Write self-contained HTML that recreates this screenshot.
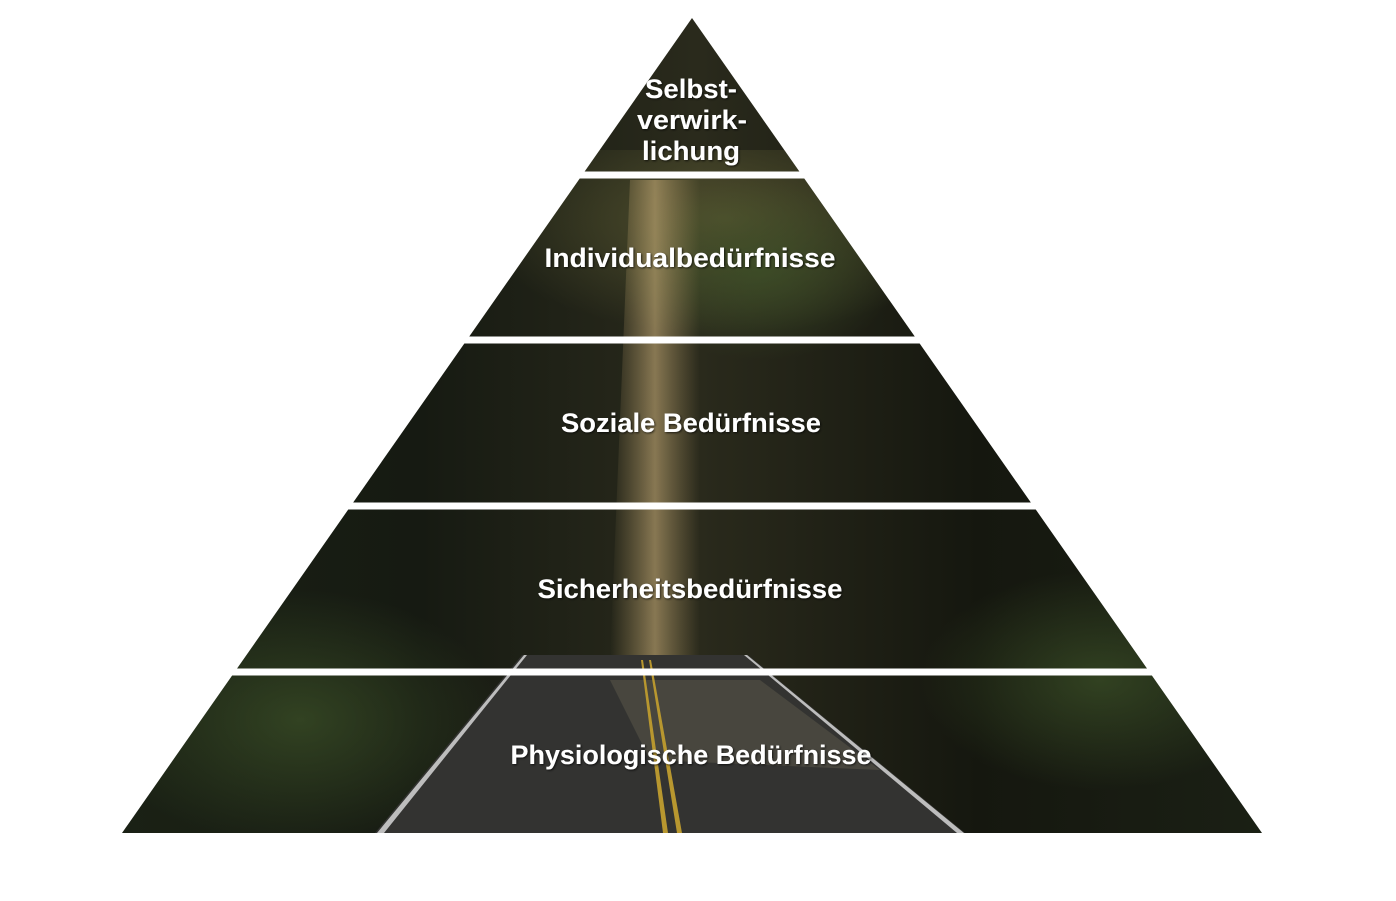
<!DOCTYPE html>
<html><head><meta charset="utf-8"><style>
html,body{margin:0;padding:0;background:#fff;width:1396px;height:901px;overflow:hidden}
</style></head><body>
<svg width="1396" height="901" viewBox="0 0 1396 901" xmlns="http://www.w3.org/2000/svg">
<defs>
<clipPath id="tri"><polygon points="692,18 1262,833 122,833"/></clipPath>
<linearGradient id="bg" x1="0" y1="0" x2="1" y2="0">
<stop offset="0" stop-color="#1c2416"/><stop offset="0.3" stop-color="#161a12"/>
<stop offset="0.5" stop-color="#2a2a1c"/><stop offset="0.7" stop-color="#15170f"/>
<stop offset="1" stop-color="#1d2417"/></linearGradient>
<linearGradient id="beam" x1="0" y1="0" x2="1" y2="0">
<stop offset="0" stop-color="#b49a66" stop-opacity="0"/>
<stop offset="0.5" stop-color="#c8ad78" stop-opacity="0.6"/>
<stop offset="1" stop-color="#b49a66" stop-opacity="0"/></linearGradient>
<radialGradient id="top" cx="0.55" cy="0.3" r="0.5">
<stop offset="0" stop-color="#6b6a3a" stop-opacity="0.6"/><stop offset="1" stop-color="#6b6a3a" stop-opacity="0"/></radialGradient>
<radialGradient id="lg" cx="0.5" cy="0.5" r="0.5">
<stop offset="0" stop-color="#3d5228" stop-opacity="0.7"/><stop offset="1" stop-color="#3d5228" stop-opacity="0"/></radialGradient>
<filter id="sh"><feDropShadow dx="1" dy="1" stdDeviation="1" flood-color="#000" flood-opacity="0.7"/></filter>
</defs>
<g clip-path="url(#tri)">
<rect x="0" y="0" width="1396" height="901" fill="url(#bg)"/>
<rect x="450" y="150" width="500" height="230" fill="url(#top)"/>
<ellipse cx="300" cy="720" rx="200" ry="130" fill="url(#lg)"/>
<ellipse cx="1100" cy="680" rx="180" ry="110" fill="url(#lg)"/>
<ellipse cx="760" cy="270" rx="140" ry="90" fill="url(#lg)"/>
<polygon points="630,180 700,180 700,660 610,660" fill="url(#beam)"/>
<polygon points="522,655 748,655 965,833 375,833" fill="#333331"/>
<polygon points="610,680 760,680 880,770 650,760" fill="#6a6452" opacity="0.4"/>
<polygon points="524,655 527,655 384,833 377,833" fill="#bdbdbd"/>
<polygon points="744,655 747,655 964,833 957,833" fill="#bdbdbd"/>
<polygon points="641,660 643,660 668,833 663,833" fill="#b8972f"/>
<polygon points="649,660 651,660 682,833 677,833" fill="#b8972f"/>
</g>
<g stroke="#fff" stroke-width="7">
<line x1="0" y1="175" x2="1396" y2="175"/>
<line x1="0" y1="340" x2="1396" y2="340"/>
<line x1="0" y1="506" x2="1396" y2="506"/>
<line x1="0" y1="672" x2="1396" y2="672"/>
</g>
<g font-family="Liberation Sans, sans-serif" font-weight="bold" font-size="27" fill="#fff" text-anchor="middle" filter="url(#sh)">
<text x="691" y="98" textLength="92" lengthAdjust="spacingAndGlyphs">Selbst-</text>
<text x="692" y="129" textLength="110" lengthAdjust="spacingAndGlyphs">verwirk-</text>
<text x="691" y="160" textLength="98" lengthAdjust="spacingAndGlyphs">lichung</text>
<text x="690" y="267" textLength="291" lengthAdjust="spacingAndGlyphs">Individualbedürfnisse</text>
<text x="691" y="432" textLength="260" lengthAdjust="spacingAndGlyphs">Soziale Bedürfnisse</text>
<text x="690" y="598" textLength="305" lengthAdjust="spacingAndGlyphs">Sicherheitsbedürfnisse</text>
<text x="691" y="764" textLength="361" lengthAdjust="spacingAndGlyphs">Physiologische Bedürfnisse</text>
</g>
</svg>
</body></html>
